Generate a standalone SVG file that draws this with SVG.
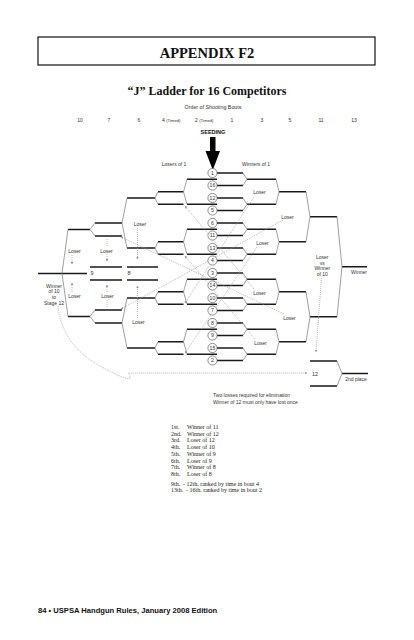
<svg xmlns="http://www.w3.org/2000/svg" width="414" height="640" viewBox="0 0 414 640">
<defs>
<style>
.hd{font-family:"Liberation Serif","Times New Roman",serif;font-weight:bold;fill:#111;text-anchor:middle}
.sm{font-family:"Liberation Sans",Arial,sans-serif;font-size:5px;fill:#333}
.c{text-anchor:middle}
.lg{font-family:"Liberation Serif","Times New Roman",serif;font-size:6px;fill:#222}
.thk{fill:none;stroke:#1a1a1a;stroke-width:1.5}
.thn{fill:none;stroke:#777;stroke-width:0.7}
.dot{fill:none;stroke:#9a9a9a;stroke-width:0.7;stroke-dasharray:1 1}
.sd circle{fill:#fff;stroke:#444;stroke-width:0.6}
.sd text{font-family:"Liberation Sans",Arial,sans-serif;font-size:5.2px;fill:#333;text-anchor:middle}
</style>
<marker id="ah" viewBox="0 0 6 6" refX="5" refY="3" markerWidth="4" markerHeight="4" orient="auto"><path d="M0,0 L6,3 L0,6 z" fill="#999"/></marker>
</defs>
<rect width="414" height="640" fill="#fff"/>
<g id="header">
<rect x="38" y="37" width="337" height="28" fill="none" stroke="#111" stroke-width="1.2"/>
<text class="hd" x="207" y="57.5" font-size="14.5">APPENDIX F2</text>
<text class="hd" x="207" y="95" font-size="12">“J” Ladder for 16 Competitors</text>
</g>
<g id="bouts" class="sm" font-size="5.3">
<text class="c" x="213" y="108.7" font-size="5.3">Order of Shooting Bouts</text>
<text class="c" x="80" y="122">10</text>
<text class="c" x="109" y="122">7</text>
<text class="c" x="139" y="122">6</text>
<text x="162" y="122">4 <tspan font-size="4.2">(Timed)</tspan></text>
<text x="195" y="122">2 <tspan font-size="4.2">(Timed)</tspan></text>
<text class="c" x="232" y="122">1</text>
<text class="c" x="262" y="122">3</text>
<text class="c" x="290" y="122">5</text>
<text class="c" x="321" y="122">11</text>
<text class="c" x="354" y="122">13</text>
<text class="c" x="213" y="133.7" font-weight="bold" font-size="5.5" fill="#111">SEEDING</text>
<polygon points="210,137 215.5,137 215.5,151 220,151 212.8,170 205.5,151 210,151" fill="#000"/>
<text class="c" x="174" y="165.5">Losers of 1</text>
<text class="c" x="256" y="165.5">Winners of 1</text>
</g>
<g id="connectors">
<path class="thk" d="M217 173H243M217 185.5H243M217 198H243M217 210.5H243M217 223H243M217 235.5H243M217 248H243M217 260.5H243M217 273H243M217 285.5H243M217 298H243M217 310.5H243M217 323H243M217 335.5H243M217 348H243M217 360.5H243"/>
<path class="thk" d="M247 179.25H276M247 204.25H276M247 229.25H276M247 254.25H276M247 279.25H276M247 304.25H276M247 329.25H276M247 354.25H276M279 191.75H306M279 241.75H306M279 291.75H306M279 341.75H306M310 216.75H337M310 316.75H337M342 266.75H367M310 361H337M310 386H337M342 373.5H368"/>
<path class="thn" d="M243 173L247 179.25L243 185.5M243 198L247 204.25L243 210.5M243 223L247 229.25L243 235.5M243 248L247 254.25L243 260.5M243 273L247 279.25L243 285.5M243 298L247 304.25L243 310.5M243 323L247 329.25L243 335.5M243 348L247 354.25L243 360.5M276 179.25L279 191.75L276 204.25M276 229.25L279 241.75L276 254.25M276 279.25L279 291.75L276 304.25M276 329.25L279 341.75L276 354.25M306 191.75L310 216.75L306 241.75M306 291.75L310 316.75L306 341.75M337 216.75L342 266.75L337 316.75M337 361L342 373.5L337 386"/>
<path class="thk" d="M187 179.25H217M187 204.25H217M187 229.25H217M187 254.25H217M187 279.25H217M187 304.25H217M187 329.25H217M187 354.25H217M158 191.75H183.5M158 241.75H183.5M158 291.75H183.5M158 341.75H183.5M158 204.25H183.5M158 254.25H183.5M158 304.25H183.5M158 354.25H183.5M127 198H155M127 248H155M127 298H155M127 348H155M95 223H122M95 236H122M95 310H122M95 323H122M68 229.5H90M68 316.5H90M38 273.5H87M90 267H122M90 280H122M127 267H158M127 280H158"/>
<path class="thn" d="M187 179.25L183.5 191.75L187 204.25M187 229.25L183.5 241.75L187 254.25M187 279.25L183.5 291.75L187 304.25M187 329.25L183.5 341.75L187 354.25M158 191.75L155 198L158 204.25M158 241.75L155 248L158 254.25M158 291.75L155 298L158 304.25M158 341.75L155 348L158 354.25M127 198L122 223L127 248M127 298L122 323L127 348M95 223L90 229.5L95 236M95 310L90 316.5L95 323M68 229.5L62 273.5L68 316.5"/>
<path class="dot" marker-end="url(#ah)" d="M254 197L185 303"/>
<path class="dot" marker-end="url(#ah)" d="M257 247L185 353"/>
<path class="dot" marker-end="url(#ah)" d="M254 289L185 206"/>
<path class="dot" marker-end="url(#ah)" d="M255 339L185 256"/>
<path class="dot" marker-end="url(#ah)" d="M283 220L121 309"/>
<path class="dot" marker-end="url(#ah)" d="M284 314L121 237"/>
<path class="dot" marker-end="url(#ah)" d="M137.5 228V259"/>
<path class="dot" marker-end="url(#ah)" d="M107 254V261"/>
<path class="dot" marker-end="url(#ah)" d="M72 255V264"/>
<path class="dot" marker-end="url(#ah)" d="M137.5 318V286"/>
<path class="dot" marker-end="url(#ah)" d="M107 292V285"/>
<path class="dot" marker-end="url(#ah)" d="M72 292V283"/>
<path class="dot" d="M107 239V247M107 300V307"/>
<path class="dot" marker-end="url(#ah)" d="M321.5 278L316 352"/>
<path class="dot" marker-end="url(#ah)" d="M58 306Q62 345 100 366T128 373H307"/>
</g>
<g id="seeds" class="sd">
<g id="s1"><circle cx="212.5" cy="173" r="4.6"/><text x="212.5" y="174.8">1</text></g>
<g id="s16"><circle cx="212.5" cy="185.5" r="4.6"/><text x="212.5" y="187.3">16</text></g>
<g id="s12"><circle cx="212.5" cy="198" r="4.6"/><text x="212.5" y="199.8">12</text></g>
<g id="s5"><circle cx="212.5" cy="210.5" r="4.6"/><text x="212.5" y="212.3">5</text></g>
<g id="s6"><circle cx="212.5" cy="223" r="4.6"/><text x="212.5" y="224.8">6</text></g>
<g id="s11"><circle cx="212.5" cy="235.5" r="4.6"/><text x="212.5" y="237.3">11</text></g>
<g id="s13"><circle cx="212.5" cy="248" r="4.6"/><text x="212.5" y="249.8">13</text></g>
<g id="s4"><circle cx="212.5" cy="260.5" r="4.6"/><text x="212.5" y="262.3">4</text></g>
<g id="s3"><circle cx="212.5" cy="273" r="4.6"/><text x="212.5" y="274.8">3</text></g>
<g id="s14"><circle cx="212.5" cy="285.5" r="4.6"/><text x="212.5" y="287.3">14</text></g>
<g id="s10"><circle cx="212.5" cy="298" r="4.6"/><text x="212.5" y="299.8">10</text></g>
<g id="s7"><circle cx="212.5" cy="310.5" r="4.6"/><text x="212.5" y="312.3">7</text></g>
<g id="s8"><circle cx="212.5" cy="323" r="4.6"/><text x="212.5" y="324.8">8</text></g>
<g id="s9"><circle cx="212.5" cy="335.5" r="4.6"/><text x="212.5" y="337.3">9</text></g>
<g id="s15"><circle cx="212.5" cy="348" r="4.6"/><text x="212.5" y="349.8">15</text></g>
<g id="s2"><circle cx="212.5" cy="360.5" r="4.6"/><text x="212.5" y="362.3">2</text></g>
</g>
<g id="labels" class="sm">
<text class="c" x="259.5" y="194">Loser</text>
<text class="c" x="262.5" y="244.5">Loser</text>
<text class="c" x="259.5" y="294.5">Loser</text>
<text class="c" x="260.5" y="344.5">Loser</text>
<text class="c" x="287.5" y="219">Loser</text>
<text class="c" x="289.5" y="319.5">Loser</text>
<text class="c" x="140" y="226">Loser</text>
<text class="c" x="106.5" y="252.7">Loser</text>
<text class="c" x="74.5" y="253.4">Loser</text>
<text class="c" x="74.5" y="297.7">Loser</text>
<text class="c" x="107.5" y="297.7">Loser</text>
<text class="c" x="138.5" y="324.4">Loser</text>
<text x="90.5" y="275.4" font-size="5.5">9</text>
<text x="127.5" y="275.4" font-size="5.5">8</text>
<text class="c" x="322.3" y="259.4">Loser</text>
<text class="c" x="322.3" y="265">vs</text>
<text class="c" x="322.3" y="270.4">Winner</text>
<text class="c" x="322.3" y="275.7">of 10</text>
<text class="c" x="359" y="274.2">Winner</text>
<text class="c" x="54" y="288.4">Winner</text>
<text class="c" x="54" y="293.4">of 10</text>
<text class="c" x="54" y="299.2">to</text>
<text class="c" x="54" y="305">Stage 12</text>
<text x="312" y="375.8" font-size="5.5">12</text>
<text class="c" x="356" y="381.2">2nd place</text>
<text x="213" y="396.7">Two losses required for elimination</text>
<text x="213" y="403.7">Winner of 12 must only have lost once</text>
</g>
<g id="legend" class="lg">
<text x="171" y="429">1st.</text><text x="187" y="429">Winner of 11</text>
<text x="171" y="435.7">2nd.</text><text x="187" y="435.7">Winner of 12</text>
<text x="171" y="442.4">3rd.</text><text x="187" y="442.4">Loser of 12</text>
<text x="171" y="449.1">4th.</text><text x="187" y="449.1">Loser of 10</text>
<text x="171" y="455.8">5th.</text><text x="187" y="455.8">Winner of 9</text>
<text x="171" y="462.5">6th.</text><text x="187" y="462.5">Loser of 9</text>
<text x="171" y="469.2">7th.</text><text x="187" y="469.2">Winner of 8</text>
<text x="171" y="475.9">8th.</text><text x="187" y="475.9">Loser of 8</text>
<text x="171" y="485.5">9th.</text><text x="183" y="485.5">- 12th. ranked by time in bout 4</text>
<text x="171" y="492.2">13th.</text><text x="186" y="492.2">- 16th. ranked by time in bout 2</text>
</g>
<g id="footer">
<text x="38" y="613" font-family="Liberation Sans,Arial,sans-serif" font-weight="bold" font-size="7.6" fill="#111">84 • USPSA Handgun Rules, January 2008 Edition</text>
</g>
</svg>
